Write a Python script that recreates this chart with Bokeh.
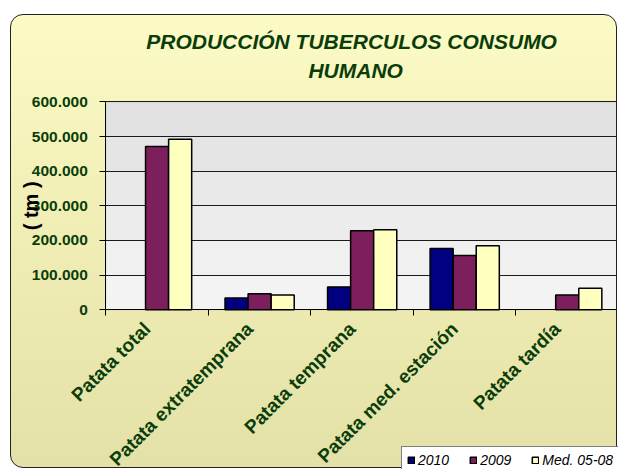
import math
from bokeh.plotting import figure
from bokeh.models import (Range1d, FixedTicker, Label, Legend, LegendItem,
                          ColumnDataSource, BoxAnnotation)
from bokeh.transform import dodge
from bokeh.embed import file_html
from bokeh.resources import INLINE

# ---- data -------------------------------------------------------------
categories = ["Patata total", "Patata extratemprana", "Patata temprana",
              "Patata med. estación", "Patata tardía"]
series_names = ["2010", "2009", "Med. 05-08"]
values_2010 = [float("nan"), 34000, 66000, 177000, float("nan")]
values_2009 = [471000, 46000, 228000, 156500, 42500]
values_med = [492000, 42500, 231000, 184500, 62000]
y_ticks = [0, 100000, 200000, 300000, 400000, 500000, 600000]
y_tick_labels = ["0", "100.000", "200.000", "300.000", "400.000", "500.000", "600.000"]
title_lines = ["PRODUCCIÓN TUBERCULOS CONSUMO", "HUMANO"]
y_label = "( tm )"

# ---- layout / styles --------------------------------------------------
FONT = "Liberation Sans"
GREEN = "#0a3d0a"
colors = ["#000080", "#7d1f5c", "#ffffc0"]
band_shades = ["#f3f3f3", "#f0f0f0", "#ececec", "#e9e9e9", "#e5e5e5", "#e1e1e1"]
bar_w = 0.225
offsets = [-bar_w, 0.0, bar_w]

W, H = 607, 454                 # host size incl. 1px CSS border
CW, CH = W - 2, H - 2           # drawing area
AREA_LEFT, AREA_TOP, AREA_BOTTOM = 94, 86, 293   # value area in canvas px
LABEL_SHIFT_PX = 10             # rotated category labels end at the group centre
n = len(categories)
y_max = y_ticks[-1]
px_per_cat = (CW - AREA_LEFT) / n
px_per_unit = (AREA_BOTTOM - AREA_TOP) / y_max


def dx(px):
    return (px - AREA_LEFT) / px_per_cat


def dy(py):
    return (AREA_BOTTOM - py) / px_per_unit


centers = [i + 0.5 for i in range(n)]
bounds = list(range(n + 1))
label_pos = [c - LABEL_SHIFT_PX / px_per_cat for c in centers]

source = ColumnDataSource(dict(x=centers, v2010=values_2010,
                               v2009=values_2009, vmed=values_med))

p = figure(width=W, height=H, output_backend="svg", toolbar_location=None,
           x_range=Range1d(dx(0), dx(CW)), y_range=Range1d(dy(CH), dy(0)),
           min_border_left=0, min_border_right=0, min_border_top=0,
           min_border_bottom=0,
           border_fill_color=None, background_fill_color=None,
           outline_line_color=None,
           styles={"background": "linear-gradient(to bottom, #fcfbc6 0%, #f3f1b8 35%, #e3e0a8 100%)",
                   "border": "1px solid #222222", "border-radius": "13px",
                   "margin-left": "10px", "margin-top": "14px"})

# plot-area background (light grey, slightly darker at the top)
for i, shade in enumerate(band_shades):
    p.add_layout(BoxAnnotation(left=0, right=n, bottom=y_ticks[i],
                               top=y_ticks[i + 1], fill_color=shade, fill_alpha=1,
                               line_color=None, level="image"))
p.add_layout(BoxAnnotation(left=0, right=n, bottom=y_ticks[0], top=y_max,
                           fill_color=None, line_color="#a0a0a0", line_width=1,
                           level="image"))

renderers = []
for name, col, off, c in zip(series_names, ["v2010", "v2009", "vmed"], offsets, colors):
    r = p.vbar(x=dodge("x", off), top=col, width=bar_w, bottom=0, source=source,
               fill_color=c, line_color="black", line_width=1.5)
    renderers.append(r)

# title (two lines)
for txt, cx, cy in zip(title_lines, [339, 343], [26, 55]):
    p.add_layout(Label(x=dx(cx), y=dy(cy), text=txt, text_align="center",
                       text_baseline="middle", text_font=FONT, text_font_size="21px",
                       text_font_style="bold italic", text_color=GREEN))

# y axis label
p.add_layout(Label(x=dx(19), y=y_max / 2, text=y_label, angle=math.pi / 2,
                   text_align="center", text_baseline="middle", text_font=FONT,
                   text_font_size="20px", text_font_style="bold", text_color="black"))

# x axis (drawn at value 0, labels hang below it)
xa = p.xaxis[0]
xa.fixed_location = 0
xa.bounds = (0, n)
xa.ticker = FixedTicker(ticks=label_pos, minor_ticks=bounds)
xa.major_label_overrides = {c: nm for c, nm in zip(label_pos, categories)}
xa.major_tick_out = 0
xa.major_tick_in = 0
xa.minor_tick_out = 6
xa.minor_tick_in = 0
xa.minor_tick_line_color = "black"
xa.axis_line_color = "black"
xa.major_label_orientation = math.pi / 4
xa.major_label_standoff = 10
xa.major_label_text_font = FONT
xa.major_label_text_font_size = "19px"
xa.major_label_text_font_style = "bold"
xa.major_label_text_color = GREEN

# y axis (drawn at x = 0)
ya = p.yaxis[0]
ya.fixed_location = 0
ya.bounds = (y_ticks[0], y_max)
ya.ticker = FixedTicker(ticks=y_ticks, minor_ticks=[])
ya.major_label_overrides = {t: l for t, l in zip(y_ticks, y_tick_labels)}
ya.major_tick_out = 6
ya.major_tick_in = 0
ya.minor_tick_line_color = None
ya.axis_line_color = "black"
ya.major_label_standoff = 12
ya.major_label_text_font = FONT
ya.major_label_text_font_size = "15.5px"
ya.major_label_text_font_style = "bold"
ya.major_label_text_color = GREEN

p.xgrid.visible = False
p.ygrid.ticker = FixedTicker(ticks=y_ticks)
p.ygrid.bounds = (y_ticks[0], y_max)
p.ygrid.cross_bounds = (0, n)
p.ygrid.grid_line_color = "#1a1a1a"
p.ygrid.grid_line_width = 1

legend = Legend(items=[LegendItem(label=nm, renderers=[r]) for nm, r in zip(series_names, renderers)],
                orientation="horizontal", location=(390, -5),
                label_text_font=FONT, label_text_font_size="14px",
                label_text_font_style="italic", label_text_color="black",
                glyph_width=8, glyph_height=8, label_standoff=3, spacing=20,
                padding=5, margin=0, border_line_color="black", border_line_width=1,
                background_fill_color="white", background_fill_alpha=1.0)
p.add_layout(legend, "center")

open("out.html", "w").write(file_html(p, INLINE))
